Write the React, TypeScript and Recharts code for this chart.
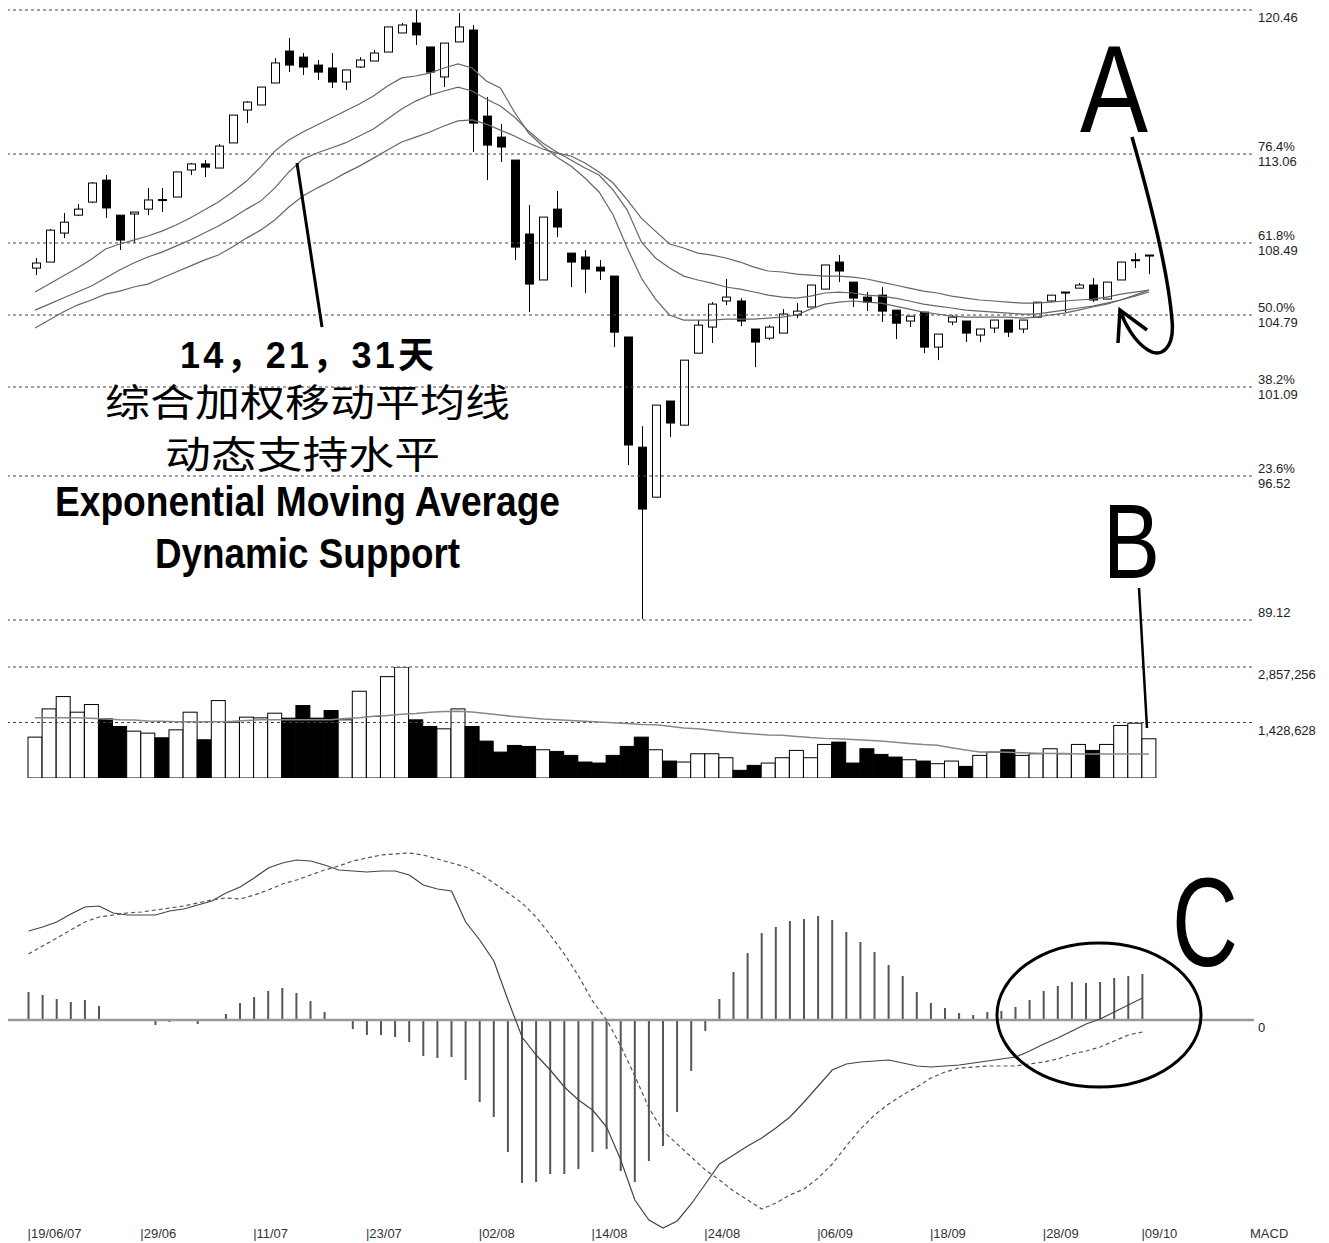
import { Bar, ComposedChart, Line, ReferenceLine, XAxis, YAxis } from "recharts";

// trading days, 19/06/07 .. 09/10/07
const dates = [
  "19/06/07", "20/06/07", "21/06/07", "22/06/07", "25/06/07", "26/06/07", "27/06/07", "28/06/07", "29/06/07",
  "02/07/07", "03/07/07", "04/07/07", "05/07/07", "06/07/07", "09/07/07", "10/07/07", "11/07/07", "12/07/07", "13/07/07",
  "16/07/07", "17/07/07", "18/07/07", "19/07/07", "20/07/07", "23/07/07", "24/07/07", "25/07/07", "26/07/07", "27/07/07",
  "30/07/07", "31/07/07", "01/08/07", "02/08/07", "03/08/07", "06/08/07", "07/08/07", "08/08/07", "09/08/07", "10/08/07",
  "13/08/07", "14/08/07", "15/08/07", "16/08/07", "17/08/07", "20/08/07", "21/08/07", "22/08/07", "23/08/07", "24/08/07",
  "28/08/07", "29/08/07", "30/08/07", "31/08/07", "03/09/07", "04/09/07", "05/09/07", "06/09/07", "07/09/07",
  "10/09/07", "11/09/07", "12/09/07", "13/09/07", "14/09/07", "17/09/07", "18/09/07", "19/09/07", "20/09/07", "21/09/07",
  "24/09/07", "25/09/07", "26/09/07", "27/09/07", "28/09/07", "01/10/07", "02/10/07", "03/10/07", "04/10/07", "05/10/07",
  "08/10/07", "09/10/07",
];

const opens = [
  107.2, 107.51, 109.0, 109.92, 110.59, 111.72, 109.92, 109.98, 110.23, 110.72,
  110.85, 112.24, 112.55, 112.34, 113.63, 115.32, 115.58, 116.71, 118.35, 118.04,
  117.63, 117.48, 116.76, 117.53, 117.84, 118.3, 119.28, 119.79, 118.56, 117.02,
  118.82, 119.43, 115.01, 113.93, 112.75, 108.95, 106.59, 110.23, 107.97, 107.77,
  107.25, 106.79, 103.66, 98.0, 95.43, 100.37, 99.13, 102.83, 104.17, 105.51,
  105.51, 104.07, 103.6, 103.86, 104.79, 105.2, 106.12, 107.51, 106.48, 105.71,
  105.81, 105.04, 104.48, 104.94, 103.14, 104.43, 104.48, 103.76, 104.12, 104.53,
  104.07, 104.68, 105.51, 105.92, 106.17, 106.33, 105.61, 106.59, 107.59, 107.82,
];
const highs = [
  107.72, 109.21, 110.03, 110.49, 111.62, 111.98, 109.92, 110.08, 111.31, 111.31,
  112.14, 112.6, 112.75, 113.57, 115.06, 115.78, 116.5, 117.99, 119.02, 118.25,
  117.89, 118.25, 117.38, 118.04, 118.4, 119.59, 119.79, 120.46, 118.56, 118.76,
  120.3, 119.69, 115.99, 114.6, 112.75, 110.44, 109.82, 111.16, 107.97, 108.13,
  107.61, 106.79, 103.66, 99.08, 100.16, 100.37, 102.47, 104.53, 105.45, 106.64,
  105.66, 104.07, 104.27, 105.09, 105.4, 106.33, 107.36, 107.87, 106.48, 105.97,
  106.22, 105.04, 104.73, 104.94, 103.81, 104.79, 104.48, 104.07, 104.53, 104.53,
  104.53, 105.45, 105.81, 105.97, 106.43, 106.69, 106.48, 107.51, 107.97, 107.87,
];
const lows = [
  106.84, 107.51, 108.74, 109.87, 110.54, 109.77, 108.13, 108.49, 109.92, 110.08,
  110.85, 111.98, 111.88, 112.34, 113.63, 114.65, 115.58, 116.71, 117.27, 117.12,
  116.86, 116.45, 116.35, 117.48, 117.84, 118.3, 119.28, 118.66, 116.09, 116.5,
  118.82, 113.16, 111.72, 112.65, 107.61, 104.94, 106.59, 108.79, 106.22, 105.92,
  106.59, 103.14, 97.08, 89.16, 95.43, 98.52, 99.13, 102.83, 103.35, 105.3,
  104.22, 102.11, 103.5, 103.86, 104.63, 105.2, 106.12, 106.48, 105.2, 104.99,
  104.43, 103.55, 104.17, 102.83, 102.47, 104.27, 103.4, 103.4, 103.86, 103.66,
  103.86, 104.68, 105.45, 104.94, 106.17, 105.45, 105.61, 106.59, 107.2, 106.89,
];
const closes = [
  107.46, 109.15, 109.56, 110.23, 111.57, 110.29, 108.64, 110.08, 110.7, 110.68,
  112.14, 112.55, 112.39, 113.47, 115.06, 115.73, 116.5, 117.74, 117.63, 117.53,
  117.27, 116.76, 117.38, 117.89, 118.25, 119.59, 119.69, 119.18, 117.27, 118.76,
  119.59, 114.65, 113.52, 113.42, 108.28, 106.38, 109.82, 109.31, 107.51, 107.15,
  107.05, 103.91, 98.11, 94.82, 100.16, 99.24, 102.47, 104.27, 105.35, 105.71,
  104.48, 103.4, 104.17, 104.84, 104.99, 106.33, 107.36, 107.05, 105.66, 105.45,
  104.99, 104.37, 104.73, 103.14, 103.81, 104.68, 103.86, 104.07, 104.53, 103.91,
  104.53, 105.45, 105.81, 105.97, 106.33, 105.56, 106.48, 107.51, 107.63, 107.87,
];

const ema14 = [
  105.97, 106.38, 106.79, 107.2, 107.66, 108.18, 108.44, 108.64, 108.85, 109.1,
  109.41, 109.77, 110.18, 110.59, 111.11, 111.67, 112.39, 113.21, 113.78, 114.19,
  114.55, 114.91, 115.27, 115.63, 116.04, 116.55, 116.97, 117.07, 117.22, 117.48,
  117.69, 117.48, 116.81, 116.45, 115.22, 114.14, 113.47, 112.91, 112.44, 111.83,
  111.11, 109.93, 108.23, 106.69, 105.61, 104.79, 104.53, 104.53, 104.53, 104.58,
  104.58, 104.58, 104.63, 104.68, 104.79, 105.09, 105.35, 105.45, 105.51, 105.45,
  105.4, 105.25, 105.09, 104.94, 104.84, 104.73, 104.68, 104.68, 104.68, 104.68,
  104.63, 104.68, 104.79, 104.89, 105.04, 105.2, 105.35, 105.56, 105.81, 106.07,
];
const ema21 = [
  105.04, 105.35, 105.66, 105.97, 106.28, 106.69, 107.1, 107.46, 107.77, 108.02,
  108.33, 108.64, 109.0, 109.36, 109.77, 110.23, 110.64, 111.31, 112.14, 112.8,
  113.11, 113.37, 113.63, 113.99, 114.35, 114.86, 115.37, 115.78, 116.09, 116.3,
  116.5, 116.3, 115.89, 115.53, 114.96, 114.24, 113.63, 113.16, 112.75, 112.34,
  111.98, 111.21, 110.18, 108.54, 107.72, 107.2, 106.79, 106.59, 106.43, 106.23,
  106.12, 105.97, 105.81, 105.71, 105.66, 105.76, 105.92, 105.97, 105.92, 105.81,
  105.76, 105.66, 105.51, 105.35, 105.25, 105.15, 105.04, 104.99, 104.94, 104.89,
  104.84, 104.84, 104.94, 105.04, 105.15, 105.25, 105.4, 105.56, 105.76, 105.97,
];
const ema31 = [
  104.12, 104.53, 104.94, 105.3, 105.56, 105.86, 106.02, 106.23, 106.38, 106.69,
  107.0, 107.3, 107.61, 107.87, 108.28, 108.74, 109.15, 109.67, 110.34, 110.9,
  111.31, 111.67, 112.08, 112.44, 112.85, 113.27, 113.68, 113.93, 114.19, 114.5,
  114.76, 114.81, 114.6, 114.29, 113.99, 113.63, 113.32, 113.11, 112.96, 112.6,
  112.14, 111.57, 110.7, 109.77, 109.1, 108.44, 108.23, 107.97, 107.87, 107.72,
  107.51, 107.25, 107.05, 107.0, 106.89, 106.84, 106.79, 106.79, 106.74, 106.64,
  106.48, 106.33, 106.17, 106.02, 105.92, 105.76, 105.66, 105.56, 105.51, 105.45,
  105.4, 105.4, 105.45, 105.51, 105.56, 105.61, 105.71, 105.86, 105.97, 106.07,
];

const volumes = [
  1052000, 1779000, 2096000, 1694000, 1891000, 1523000, 1326000, 1206000, 1155000, 1035000,
  1240000, 1694000, 984000, 1993000, 1437000, 1566000, 1548000, 1668000, 1540000, 1865000,
  1540000, 1737000, 1497000, 2233000, 1583000, 2609000, 2857256, 1497000, 1326000, 1266000,
  1779000, 1326000, 950000, 667000, 838000, 813000, 727000, 684000, 582000, 411000,
  385000, 582000, 813000, 1052000, 727000, 436000, 411000, 624000, 624000, 522000,
  197000, 325000, 385000, 522000, 710000, 522000, 864000, 924000, 385000, 753000,
  607000, 539000, 470000, 436000, 368000, 436000, 299000, 582000, 667000, 727000,
  582000, 624000, 753000, 624000, 864000, 710000, 864000, 1352000, 1411000, 1009000,
];
const volumeAvg = [
  1550000, 1550000, 1550000, 1550000, 1540000, 1520000, 1500000, 1490000, 1470000, 1460000,
  1450000, 1450000, 1450000, 1450000, 1460000, 1480000, 1500000, 1500000, 1500000, 1500000,
  1500000, 1500000, 1530000, 1550000, 1590000, 1610000, 1640000, 1660000, 1690000, 1710000,
  1720000, 1700000, 1660000, 1620000, 1580000, 1550000, 1520000, 1500000, 1480000, 1460000,
  1440000, 1420000, 1400000, 1380000, 1370000, 1330000, 1290000, 1270000, 1230000, 1190000,
  1160000, 1130000, 1110000, 1100000, 1070000, 1040000, 1020000, 1010000, 990000, 970000,
  950000, 920000, 890000, 860000, 840000, 780000, 720000, 670000, 670000, 660000,
  650000, 640000, 630000, 630000, 620000, 620000, 620000, 620000, 620000, 620000,
];

const macd = [
  0.89, 0.93, 0.98, 1.06, 1.13, 1.14, 1.07, 1.05, 1.05, 1.05,
  1.09, 1.11, 1.15, 1.19, 1.27, 1.33, 1.42, 1.52, 1.57, 1.6,
  1.59, 1.55, 1.5, 1.49, 1.48, 1.49, 1.49, 1.45, 1.35, 1.31,
  1.29, 0.98, 0.8, 0.59, 0.2, -0.17, -0.35, -0.5, -0.67, -0.8,
  -0.9, -1.07, -1.4, -1.8, -2.0, -2.08, -2.01, -1.84, -1.64, -1.44,
  -1.35, -1.26, -1.18, -1.08, -0.97, -0.82, -0.66, -0.5, -0.44, -0.42,
  -0.41, -0.4, -0.43, -0.46, -0.47, -0.46, -0.45, -0.43, -0.41, -0.39,
  -0.37, -0.31, -0.24, -0.18, -0.11, -0.04, 0.01, 0.08, 0.15, 0.22,
];
const signal = [
  0.66, 0.74, 0.82, 0.9, 0.98, 1.03, 1.05, 1.07, 1.08, 1.1,
  1.12, 1.14, 1.17, 1.2, 1.22, 1.21, 1.25, 1.3, 1.36, 1.4,
  1.45, 1.5, 1.54, 1.59, 1.62, 1.65, 1.66, 1.67, 1.65, 1.61,
  1.57, 1.53, 1.46, 1.37, 1.27, 1.17, 1.03, 0.85, 0.66, 0.44,
  0.19, 0.0, -0.26, -0.56, -0.88, -1.11, -1.24, -1.37, -1.5, -1.6,
  -1.71, -1.8, -1.89, -1.83, -1.75, -1.69, -1.58, -1.44, -1.26, -1.09,
  -0.95, -0.84, -0.75, -0.67, -0.58, -0.52, -0.48, -0.47, -0.46, -0.46,
  -0.46, -0.44, -0.42, -0.39, -0.34, -0.31, -0.27, -0.21, -0.15, -0.12,
];
const histogram = [
  0.28, 0.25, 0.21, 0.18, 0.2, 0.14, 0.005, -0.01, -0.01, -0.05,
  -0.02, -0.01, -0.04, -0.01, 0.06, 0.17, 0.23, 0.29, 0.32, 0.27,
  0.19, 0.08, 0.005, -0.09, -0.15, -0.15, -0.17, -0.22, -0.36, -0.38,
  -0.37, -0.6, -0.82, -0.97, -1.32, -1.63, -1.62, -1.54, -1.54, -1.49,
  -1.32, -1.29, -1.51, -1.62, -1.41, -1.26, -0.92, -0.51, -0.11, 0.21,
  0.48, 0.67, 0.87, 0.93, 0.99, 1.01, 1.04, 1.0, 0.88, 0.78,
  0.68, 0.55, 0.44, 0.28, 0.17, 0.12, 0.07, 0.05, 0.08, 0.09,
  0.13, 0.2, 0.29, 0.34, 0.38, 0.37, 0.38, 0.42, 0.44, 0.46,
];

// fibonacci retracement levels and their ratios
const fibLevels = [120.46, 113.06, 108.49, 104.79, 101.09, 96.52, 89.12];
const fibRatios = ["", "76.4%", "61.8%", "50.0%", "38.2%", "23.6%", ""];
const volumeLevels = [2857256, 1428628];
const tickDates = ["19/06/07", "29/06/07", "11/07/07", "23/07/07", "02/08/07", "14/08/07", "24/08/07", "06/09/07", "18/09/07", "28/09/07", "09/10/07"];
const tickLabels = ["19/06/07", "29/06", "11/07", "23/07", "02/08", "14/08", "24/08", "06/09", "18/09", "28/09", "09/10"];

const rows = dates.map((date, i) => ({
  date,
  open: opens[i],
  high: highs[i],
  low: lows[i],
  close: closes[i],
  range: [lows[i], highs[i]],
  ema14: ema14[i],
  ema21: ema21[i],
  ema31: ema31[i],
  volume: volumes[i],
  volumeAvg: volumeAvg[i],
  up: closes[i] >= opens[i],
  macd: macd[i],
  signal: signal[i],
  hist: histogram[i],
}));

const W = 1329;
const LABEL_X = 1258;
const smallFont = "'Liberation Sans Narrow', 'Liberation Sans', Arial, sans-serif";
const bigFont = "'Liberation Sans', Arial, sans-serif";
const cjkFont = "'Noto Sans CJK SC', sans-serif";

function Candle(props: any) {
  const { x, y, width, height, payload } = props;
  const top = Math.min(y, y + height);
  const bottom = Math.max(y, y + height);
  const span = payload.high - payload.low || 1;
  const py = (p: number) => top + ((payload.high - p) / span) * (bottom - top);
  const cx = Math.round(x + width / 2) + 0.5;
  const up = payload.close >= payload.open;
  const bodyTop = py(Math.max(payload.open, payload.close));
  const bodyBottom = py(Math.min(payload.open, payload.close));
  return (
    <g>
      <line x1={cx} x2={cx} y1={top} y2={bottom} stroke="#000" strokeWidth={1} />
      <rect x={cx - 4} y={bodyTop} width={8} height={Math.max(bodyBottom - bodyTop, 1)} fill={up ? "#fff" : "#000"} stroke="#000" strokeWidth={1} />
    </g>
  );
}

function VolumeBar(props: any) {
  const { x, y, width, height, payload } = props;
  return <rect x={x} y={y} width={width} height={height} fill={payload.up ? "#fff" : "#000"} stroke="#000" strokeWidth={1} />;
}

function FibTick(props: any) {
  const { y, payload } = props;
  const idx = fibLevels.indexOf(payload.value);
  const ratio = fibRatios[idx];
  const value = payload.value.toFixed(2);
  if (idx === fibLevels.length - 1) {
    return <text x={LABEL_X} y={y - 3} fontSize={13} fill="#222" fontFamily={smallFont}>{value}</text>;
  }
  return (
    <g fontSize={13} fill="#222" fontFamily={smallFont}>
      {ratio && <text x={LABEL_X} y={y - 3}>{ratio}</text>}
      <text x={LABEL_X} y={y + 12}>{value}</text>
    </g>
  );
}

function VolumeTick(props: any) {
  const { y, payload } = props;
  return (
    <text x={LABEL_X} y={y + 12} fontSize={13} fill="#222" fontFamily={smallFont}>
      {payload.value.toLocaleString("en-US")}
    </text>
  );
}

function ZeroTick(props: any) {
  const { y } = props;
  return <text x={LABEL_X} y={y + 12} fontSize={13} fill="#222" fontFamily={smallFont}>0</text>;
}

function DateTick(props: any) {
  const { x, payload } = props;
  const label = tickLabels[tickDates.indexOf(payload.value)];
  return (
    <text x={x - 1} y={438} fontSize={13} fill="#333" fontFamily={smallFont}>
      {"|" + label}
    </text>
  );
}

export default function App() {
  return (
    <div style={{ position: "absolute", left: 0, top: 0, width: W, height: 1243, background: "#fff", overflow: "hidden" }}>
      <div style={{ position: "absolute", left: 0, top: 0 }}>
        <ComposedChart width={W} height={640} data={rows} margin={{ top: 10, right: 0, bottom: 20, left: 8 }}>
          <XAxis dataKey="date" hide padding={{ left: 20, right: 96 }} />
          <YAxis
            orientation="right"
            width={77}
            domain={[89.12, 120.46]}
            allowDataOverflow
            ticks={fibLevels}
            interval={0}
            axisLine={false}
            tickLine={false}
            tick={<FibTick />}
          />
          {fibLevels.map((level) => (
            <ReferenceLine key={level} y={level} stroke="#444" strokeDasharray="3 3" />
          ))}
          <Line dataKey="ema14" stroke="#666" strokeWidth={1.2} dot={false} activeDot={false} isAnimationActive={false} />
          <Line dataKey="ema21" stroke="#666" strokeWidth={1.2} dot={false} activeDot={false} isAnimationActive={false} />
          <Line dataKey="ema31" stroke="#666" strokeWidth={1.2} dot={false} activeDot={false} isAnimationActive={false} />
          <Bar dataKey="range" barSize={9} shape={(p: any) => <Candle {...p} />} isAnimationActive={false} />
        </ComposedChart>
      </div>

      <div style={{ position: "absolute", left: 0, top: 640 }}>
        <ComposedChart width={W} height={150} data={rows} margin={{ top: 27, right: 0, bottom: 12, left: 8 }} barCategoryGap={0}>
          <XAxis dataKey="date" hide padding={{ left: 20, right: 96 }} />
          <YAxis
            orientation="right"
            width={77}
            domain={[0, 2857256]}
            allowDataOverflow
            ticks={volumeLevels}
            interval={0}
            axisLine={false}
            tickLine={false}
            tick={<VolumeTick />}
          />
          {volumeLevels.map((level) => (
            <ReferenceLine key={level} y={level} stroke="#444" strokeDasharray="3 3" />
          ))}
          <Bar dataKey="volume" shape={(p: any) => <VolumeBar {...p} />} isAnimationActive={false} />
          <Line dataKey="volumeAvg" stroke="#888" strokeWidth={1.5} dot={false} activeDot={false} isAnimationActive={false} />
        </ComposedChart>
      </div>

      <div style={{ position: "absolute", left: 0, top: 800 }}>
        <ComposedChart width={W} height={443} data={rows} margin={{ top: 20, right: 0, bottom: 0, left: 8 }}>
          <XAxis
            dataKey="date"
            height={11}
            padding={{ left: 13.5, right: 104.5 }}
            ticks={tickDates}
            interval={0}
            axisLine={false}
            tickLine={false}
            tick={<DateTick />}
          />
          <YAxis
            orientation="right"
            width={75}
            domain={[-2.12, 2.0]}
            allowDataOverflow
            ticks={[0]}
            interval={0}
            axisLine={false}
            tickLine={false}
            tick={<ZeroTick />}
          />
          <ReferenceLine y={0} stroke="#999" strokeWidth={2.5} />
          <Bar dataKey="hist" barSize={2} fill="#555" isAnimationActive={false} />
          <Line dataKey="macd" stroke="#444" strokeWidth={1.2} dot={false} activeDot={false} isAnimationActive={false} />
          <Line dataKey="signal" stroke="#555" strokeWidth={1.2} strokeDasharray="4 3" dot={false} activeDot={false} isAnimationActive={false} />
        </ComposedChart>
      </div>

      <svg width={W} height={1243} style={{ position: "absolute", left: 0, top: 0, pointerEvents: "none" }}>
        {/* annotation: EMA pointer and captions */}
        <line x1={297} y1={163} x2={322} y2={327} stroke="#000" strokeWidth={3} />
        <text x={180} y={368} fontSize={36} fontWeight="bold" fontFamily={`${bigFont}, 'Noto Sans CJK SC'`} textLength={254} lengthAdjust="spacing">
          14，21，31天
        </text>
        <text x={105} y={416} fontSize={38} fontFamily={cjkFont} textLength={405} lengthAdjust="spacingAndGlyphs">
          综合加权移动平均线
        </text>
        <text x={165} y={468} fontSize={38} fontFamily={cjkFont} textLength={275} lengthAdjust="spacingAndGlyphs">
          动态支持水平
        </text>
        <text x={55} y={516} fontSize={42} fontWeight="bold" fontFamily={bigFont} textLength={505} lengthAdjust="spacingAndGlyphs">
          Exponential Moving Average
        </text>
        <text x={155} y={568} fontSize={42} fontWeight="bold" fontFamily={bigFont} textLength={305} lengthAdjust="spacingAndGlyphs">
          Dynamic Support
        </text>

        {/* A with curved arrow */}
        <text x={1080} y={132} fontSize={124} fontFamily={bigFont} textLength={68} lengthAdjust="spacingAndGlyphs">A</text>
        <path d="M1132,137 C1150,200 1168,270 1172,320 C1175,350 1160,358 1148,350 C1135,342 1125,325 1120,310" fill="none" stroke="#000" strokeWidth={3.5} />
        <path d="M1118,343 L1120,310 L1147,330" fill="none" stroke="#000" strokeWidth={3.5} />

        {/* B pointer */}
        <text x={1103} y={578} fontSize={105} fontFamily={bigFont} textLength={57} lengthAdjust="spacingAndGlyphs">B</text>
        <line x1={1139} y1={588} x2={1147} y2={728} stroke="#000" strokeWidth={2.5} />

        {/* C ellipse */}
        <ellipse cx={1099} cy={1015} rx={102} ry={72} fill="none" stroke="#000" strokeWidth={3} />
        <text x={1172} y={966} fontSize={127} fontFamily={bigFont} textLength={66} lengthAdjust="spacingAndGlyphs">C</text>

        <text x={1250} y={1238} fontSize={13} fill="#333" fontFamily={smallFont}>MACD</text>
      </svg>
    </div>
  );
}
